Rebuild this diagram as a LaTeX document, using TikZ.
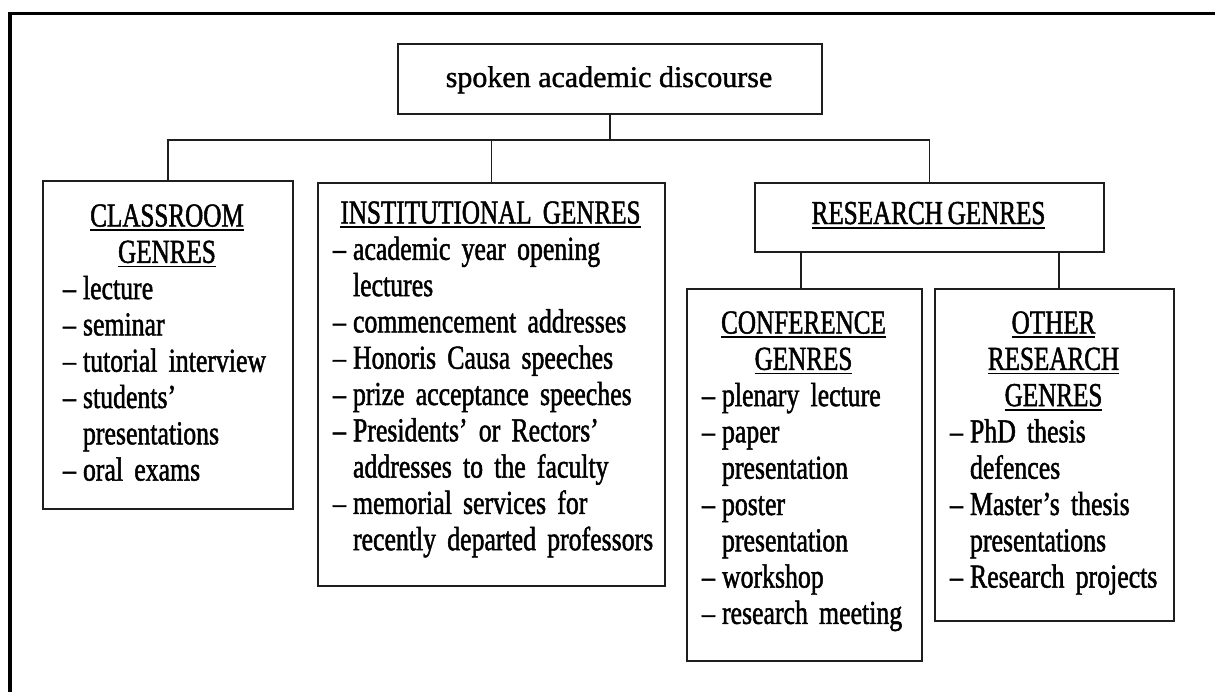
\documentclass[tikz,border=0pt]{standalone}
\usepackage{fontspec}
\setmainfont{Liberation Serif}
\newfontfamily\itemfont[FakeStretch=0.77,FakeBold=1.4]{Liberation Serif}
\newfontfamily\headfont[FakeStretch=0.75,FakeBold=1.4]{Liberation Serif}
\newfontfamily\labelfont[FakeBold=1.2]{Liberation Serif}
\newlength\itempad
% font and word spacing for the genre boxes
\newcommand\boxtextfont{\itemfont\fontsize{33.5}{36.3}\selectfont\spaceskip=4.8pt\relax\xspaceskip=4.8pt\relax}
% underlined genre heading
\newcommand\genrehead[1]{\sbox0{\headfont #1}\leavevmode\rlap{\rule[-4.5pt]{\wd0}{1.8pt}}\usebox0}
% one dashed list entry with hanging indent
\newcommand\entry[1]{\par\noindent\hangindent=\dimexpr\itempad+20pt\relax\hangafter=1\hspace*{\itempad}\makebox[20pt][l]{\textendash}#1}
\definecolor{linecol}{HTML}{1E1E1E}

\begin{document}
\begin{tikzpicture}[x=1pt,y=-1pt,
  box/.style={draw=linecol, line width=1.8pt, rectangle, inner sep=0pt, anchor=north west},
  boxtext/.style={inner sep=0pt, anchor=base, font=\boxtextfont},
  wire/.style={draw=linecol, line width=1.8pt},
  frame/.style={draw=black, line width=3.6pt}]
\fill[white] (0,0) rectangle (1215,691);
\useasboundingbox (0,0) rectangle (1215,691);

% outer frame (only left and top edges fall inside the page)
\draw[frame] (10,720) -- (10,13.5) -- (1240,13.5);

% boxes
\node[box, minimum width=424pt, minimum height=70pt] (top) at (397,43) {};
\node[box, minimum width=250pt, minimum height=328pt] (cls) at (42,180) {};
\node[box, minimum width=347pt, minimum height=403pt] (inst) at (317,182) {};
\node[box, minimum width=349pt, minimum height=69pt] (res) at (754,182) {};
\node[box, minimum width=235pt, minimum height=372pt] (conf) at (686,288) {};
\node[box, minimum width=239pt, minimum height=332pt] (oth) at (934,288) {};

% texts
\node[inner sep=0pt, anchor=base, font=\labelfont\fontsize{30}{36}\selectfont] (topt) at (609,87) {spoken academic discourse};

\node[boxtext, text width=250pt] (clst) at (167,226.5) {\raggedright\itempad=21pt\relax
  {\centering\genrehead{CLASSROOM}\\\genrehead{GENRES}\par}
  \entry{lecture}
  \entry{seminar}
  \entry{tutorial interview}
  \entry{students’\newline presentations}
  \entry{oral exams}\par};

\node[boxtext, text width=347pt] (instt) at (490.5,223.5) {\raggedright\itempad=16pt\relax
  {\centering\genrehead{INSTITUTIONAL GENRES}\par}
  \entry{academic year opening\newline lectures}
  \entry{commencement addresses}
  \entry{Honoris Causa speeches}
  \entry{prize acceptance speeches}
  \entry{Presidents’ or Rectors’\newline addresses to the faculty}
  \entry{memorial services for\newline recently departed professors}\par};

\node[boxtext] (rest) at (928.5,224) {\genrehead{RESEARCH GENRES}};

\node[boxtext, text width=235pt] (conft) at (803.5,333.5) {\raggedright\itempad=16pt\relax
  {\centering\genrehead{CONFERENCE}\\\genrehead{GENRES}\par}
  \entry{plenary lecture}
  \entry{paper\newline presentation}
  \entry{poster\newline presentation}
  \entry{workshop}
  \entry{research meeting}\par};

\node[boxtext, text width=239pt] (otht) at (1053.5,333.5) {\raggedright\itempad=16pt\relax
  {\centering\genrehead{OTHER}\\\genrehead{RESEARCH}\\\genrehead{GENRES}\par}
  \entry{PhD thesis\newline defences}
  \entry{Master’s thesis\newline presentations}
  \entry{Research projects}\par};

% connectors
\coordinate (bus) at (0,140);
\coordinate (c1) at (801,0);
\coordinate (c2) at (1059,0);
\draw[wire] (top.south) -- (top.south |- bus);
\draw[wire] (cls.north) -- (cls.north |- bus) -- (res.north |- bus) -- (res.north);
\draw[wire] (inst.north) -- (inst.north |- bus);
\draw[wire] (c1 |- res.south) -- (c1 |- conf.north);
\draw[wire] (c2 |- res.south) -- (c2 |- oth.north);
\end{tikzpicture}
\end{document}
